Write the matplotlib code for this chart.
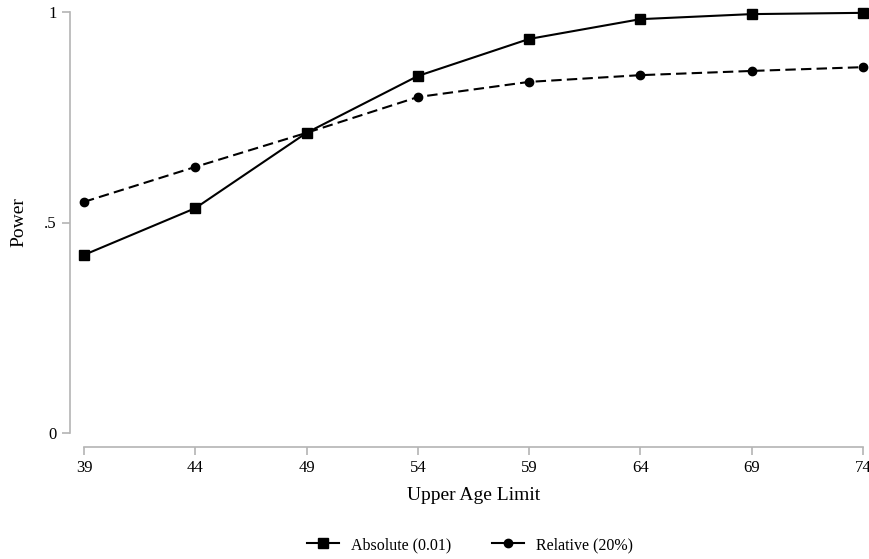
import matplotlib
matplotlib.use("Agg")
import matplotlib.pyplot as plt
from matplotlib.lines import Line2D

plt.rcParams['font.family'] = ['Liberation Serif', 'DejaVu Serif']

ages = [39, 44, 49, 54, 59, 64, 69, 74]
absolute = [0.423, 0.534, 0.713, 0.848, 0.936, 0.983, 0.995, 0.998]
relative = [0.549, 0.632, 0.713, 0.798, 0.834, 0.850, 0.860, 0.869]
yticks = [0, 0.5, 1]
yticklabels = ['0', '.5', '1']
labels = ['Absolute (0.01)', 'Relative (20%)']

W, H = 870, 559
fig = plt.figure(figsize=(W / 100, H / 100), dpi=100)
ax = fig.add_axes([84 / W, (H - 433) / H, (863 - 84) / W, (433 - 12) / H])

ax.plot(ages, absolute, color='black', lw=1.5, marker='s', ms=6.5, clip_on=False)
ax.plot(ages, relative, color='black', lw=1.5, marker='o', ms=6, dashes=(5, 2.5), clip_on=False)

ax.set_xlim(39, 74)
ax.set_ylim(0, 1)
ax.set_xticks(ages)
ax.set_yticks(yticks)
ax.set_yticklabels(yticklabels)

gray = '#b4b4b4'
for s in ['top', 'right']:
    ax.spines[s].set_visible(False)
for s in ['left', 'bottom']:
    ax.spines[s].set_color(gray)
    ax.spines[s].set_linewidth(1.2)
    ax.spines[s].set_position(('outward', 10))
ax.tick_params(axis='both', color=gray, width=1.2, length=6, labelsize=12, pad=3.5)

ax.set_xlabel('Upper Age Limit', fontsize=14, labelpad=8)
ax.set_ylabel('Power', fontsize=14, labelpad=12)

handles = [
    Line2D([], [], color='black', lw=1.5, marker='s', ms=6.5),
    Line2D([], [], color='black', lw=1.5, marker='o', ms=6),
]
fig.legend(handles, labels, loc='center', bbox_to_anchor=(470 / W, 1 - 545 / H),
           ncol=2, frameon=False, fontsize=11.5, handlelength=2.0, columnspacing=2.5,
           handletextpad=0.8)

fig.savefig('out.png', dpi=100)
